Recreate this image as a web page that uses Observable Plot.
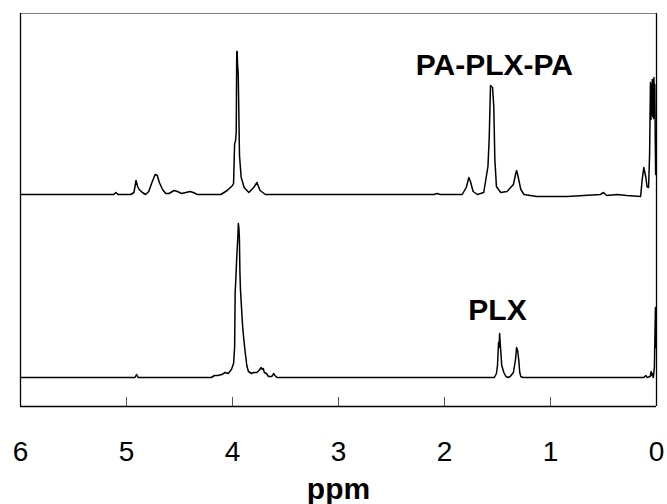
<!DOCTYPE html>
<html>
<head>
<meta charset="utf-8">
<script src="https://cdn.jsdelivr.net/npm/d3@7"></script>
<script src="https://cdn.jsdelivr.net/npm/@observablehq/plot@0.6"></script>
<style>
  html, body { margin: 0; padding: 0; background: #fff; }
</style>
</head>
<body>
<div id="chart"></div>
<script>
// x tick labels (ppm)
const xTicks = [6, 5, 4, 3, 2, 1, 0];
const innerTicks = [5, 4, 3, 2, 1];

// Spectrum labels
const seriesNames = ["PA-PLX-PA", "PLX"];
const labelPpm = [1.53, 1.5];
const labelLevel = [312, 67];

// PA-PLX-PA spectrum (ppm, intensity above its own baseline)
const topPpm = [6.0, 5.12, 5.10, 5.08, 4.96, 4.93, 4.91, 4.895, 4.88, 4.85, 4.82, 4.79, 4.76, 4.73, 4.71, 4.69, 4.66, 4.63, 4.60, 4.55, 4.52, 4.48, 4.44, 4.40, 4.37, 4.33, 4.18, 4.11, 4.05, 4.0, 3.99, 3.98, 3.972, 3.965, 3.96, 3.956, 3.952, 3.946, 3.94, 3.934, 3.918, 3.89, 3.846, 3.80, 3.77, 3.74, 3.69, 2.10, 2.07, 2.04, 1.833, 1.795, 1.77, 1.755, 1.73, 1.69, 1.63, 1.59, 1.578, 1.566, 1.547, 1.535, 1.525, 1.51, 1.47, 1.41, 1.35, 1.33, 1.32, 1.31, 1.28, 1.25, 1.13, 0.84, 0.53, 0.50, 0.47, 0.37, 0.28, 0.15, 0.135, 0.12, 0.10, 0.09, 0.075, 0.065, 0.057, 0.052, 0.048, 0.044, 0.040, 0.036, 0.032, 0.028, 0.024, 0.020, 0.016, 0.012, 0.008];
const topInt = [0, 0, 2, 0, 0, 2, 14, 8, 5, 2, 0, 3, 12, 20, 19, 12, 5, 1, 1, 4, 3, 1, 2, 3, 2, 0, 0, 0, 4, 9, 11, 51, 53, 62, 143, 143, 130, 121, 80, 39, 17, 7, 2, 7, 12, 4, 0, 0, 1, 0, 0, 7, 17, 13, 3, 0, 2, 28, 57, 109, 107, 88, 35, 8, 2, 3, 10, 20, 24, 20, 5, 0, -2, -2, 0, 2, -1, 0, -1, -2, 15, 27, 17, 8, 7, 40, 112, 75, 110, 80, 115, 78, 114, 76, 117, 80, 110, 60, 20];

// PLX spectrum (ppm, intensity above its own baseline)
const botPpm = [6.0, 4.92, 4.905, 4.89, 4.2, 4.17, 4.14, 4.10, 4.07, 4.04, 4.01, 3.99, 3.98, 3.975, 3.97, 3.96, 3.95, 3.945, 3.94, 3.935, 3.93, 3.925, 3.915, 3.905, 3.895, 3.88, 3.865, 3.85, 3.82, 3.80, 3.77, 3.75, 3.73, 3.72, 3.71, 3.70, 3.68, 3.66, 3.63, 3.61, 3.60, 3.58, 1.53, 1.51, 1.50, 1.49, 1.485, 1.48, 1.475, 1.47, 1.46, 1.44, 1.42, 1.40, 1.38, 1.35, 1.33, 1.32, 1.31, 1.30, 1.29, 1.28, 1.26, 0.12, 0.10, 0.09, 0.06, 0.05, 0.045, 0.04, 0.03, 0.02, 0.015, 0.01, 0.005];
const botInt = [0, 0, 3, 0, 0, 2, 2, 3, 5, 4, 8, 14, 30, 85, 95, 120, 140, 154, 150, 140, 105, 88, 70, 52, 40, 25, 12, 6, 4, 5, 5, 7, 10, 8, 9, 5, 4, 1, 1, 4, 2, 0, 0, 4, 12, 35, 30, 44, 35, 28, 12, 5, 1, 0, 1, 5, 18, 30, 27, 18, 5, 1, 0, 0, 2, 0, 1, 6, 2, 4, 0, 10, 40, 70, 30];

const topOffset = 183;
const topData = topPpm.map((p, i) => ({ppm: p, v: topInt[i] + topOffset}));
const botData = botPpm.map((p, i) => ({ppm: p, v: botInt[i]}));
const labels = seriesNames.map((s, i) => ({name: s, ppm: labelPpm[i], v: labelLevel[i]}));

const chart = Plot.plot({
  width: 667,
  height: 504,
  marginTop: 13,
  marginBottom: 98,
  marginLeft: 20,
  marginRight: 11,
  style: {fontFamily: "'Liberation Sans', Arial, sans-serif", background: "white", color: "black"},
  x: {domain: [6, 0]},
  y: {domain: [-29, 364], axis: null},
  marks: [
    Plot.axisX({ticks: xTicks, tickSize: 0, tickPadding: 35, fontSize: 28, label: null, tickFormat: d => String(d)}),
    Plot.ruleX(innerTicks, {y1: -29, y2: -20, stroke: "#555", strokeWidth: 1}),
    Plot.ruleY([364], {stroke: "#808080", strokeWidth: 1.2}),
    Plot.ruleY([-29], {stroke: "black", strokeWidth: 1.3}),
    Plot.ruleX([6, 0], {stroke: "black", strokeWidth: 1.3}),
    Plot.line(topData, {x: "ppm", y: "v", stroke: "black", strokeWidth: 1.5}),
    Plot.line(botData, {x: "ppm", y: "v", stroke: "black", strokeWidth: 1.5}),
    Plot.text(labels, {x: "ppm", y: "v", text: "name", fontSize: 30, fontWeight: "bold", fill: "black"}),
    Plot.text(["ppm"], {frameAnchor: "bottom", dy: 92, fontSize: 30, fontWeight: "bold", fill: "black"})
  ]
});
document.getElementById("chart").appendChild(chart);
</script>
</body>
</html>
